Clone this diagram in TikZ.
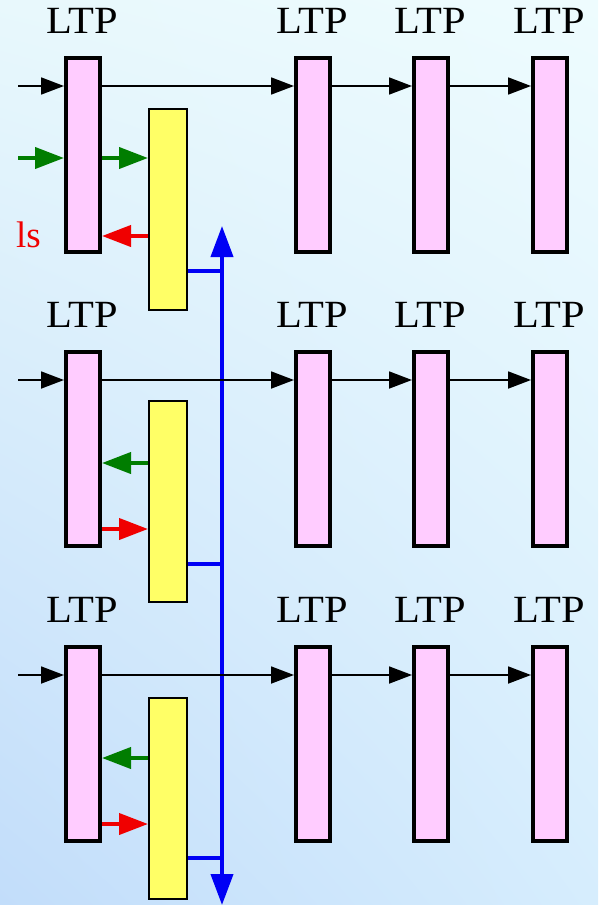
\documentclass[tikz,border=0pt]{standalone}
\usepackage{fontspec}
\setmainfont{Liberation Serif}
\newfontfamily\ltpfont[FakeStretch=1.1]{Liberation Serif}
\usetikzlibrary{arrows.meta,calc,positioning,shadings}

\definecolor{ltppink}{RGB}{255,204,255}
\definecolor{synyel}{RGB}{255,255,102}
\definecolor{sigred}{RGB}{240,0,0}
\definecolor{siggreen}{RGB}{0,125,0}
\definecolor{busblue}{RGB}{0,0,245}
\definecolor{bgtl}{RGB}{232,248,252}
\definecolor{bgtr}{RGB}{238,252,254}
\definecolor{bgbl}{RGB}{194,221,250}
\definecolor{bgbr}{RGB}{214,237,253}

\tikzset{
  ltp/.style={draw=black, line width=4pt, fill=ltppink, inner sep=0pt,
    minimum width=34pt, minimum height=194pt},
  syn/.style={draw=black, line width=2pt, fill=synyel, inner sep=0pt,
    minimum width=38pt, minimum height=201pt},
  lbl/.style={font=\ltpfont\fontsize{38.5}{40}\selectfont, anchor=base, inner sep=0pt},
  blk/.style={draw=black, line width=1.8pt, -{Triangle[length=23pt,width=17pt]}},
  grn/.style={draw=siggreen, line width=4pt, -{Triangle[length=29pt,width=21pt]}},
  rd/.style={draw=sigred, line width=4pt, -{Triangle[length=29pt,width=21pt]}},
  blu/.style={draw=busblue, line width=4pt},
}

\begin{document}
\begin{tikzpicture}[x=1pt,y=-1pt]
% background
\shade[upper left=bgtl, upper right=bgtr, lower left=bgbl, lower right=bgbr] (0,0) rectangle (598,905);
\useasboundingbox (0,0) rectangle (598,905);

% row 1
\node[ltp] (pA1) at (83,155) {};
\node[ltp] (pB1) at (313,155) {};
\node[ltp] (pC1) at (431,155) {};
\node[ltp] (pD1) at (550,155) {};
\node[syn] (yA1) at (168,209.5) {};
% row 2
\node[ltp] (pA2) at (83,449) {};
\node[ltp] (pB2) at (313,449) {};
\node[ltp] (pC2) at (431,449) {};
\node[ltp] (pD2) at (550,449) {};
\node[syn] (yA2) at (168,501.5) {};
% row 3
\node[ltp] (pA3) at (83,744) {};
\node[ltp] (pB3) at (313,744) {};
\node[ltp] (pC3) at (431,744) {};
\node[ltp] (pD3) at (550,744) {};
\node[syn] (yA3) at (168,798.5) {};

% labels
\node[lbl] (tA1) at ([yshift=23pt,xshift=-1pt]pA1.north) {LTP};
\node[lbl] (tB1) at ([yshift=23pt,xshift=-1pt]pB1.north) {LTP};
\node[lbl] (tC1) at ([yshift=23pt,xshift=-1pt]pC1.north) {LTP};
\node[lbl] (tD1) at ([yshift=23pt,xshift=-1pt]pD1.north) {LTP};
\node[lbl] (tA2) at ([yshift=23pt,xshift=-1pt]pA2.north) {LTP};
\node[lbl] (tB2) at ([yshift=23pt,xshift=-1pt]pB2.north) {LTP};
\node[lbl] (tC2) at ([yshift=23pt,xshift=-1pt]pC2.north) {LTP};
\node[lbl] (tD2) at ([yshift=23pt,xshift=-1pt]pD2.north) {LTP};
\node[lbl] (tA3) at ([yshift=23pt,xshift=-1pt]pA3.north) {LTP};
\node[lbl] (tB3) at ([yshift=23pt,xshift=-1pt]pB3.north) {LTP};
\node[lbl] (tC3) at ([yshift=23pt,xshift=-1pt]pC3.north) {LTP};
\node[lbl] (tD3) at ([yshift=23pt,xshift=-1pt]pD3.north) {LTP};
\node[text=sigred, font=\fontsize{37}{40}\selectfont, anchor=base west, inner sep=0pt] (lsig) at (16,247) {ls};

% blue bus
\coordinate (busTop) at (222,226);
\coordinate (busBot) at (222,905);
\draw[blu, {Triangle[length=31pt,width=22pt]}-{Triangle[length=31pt,width=22pt]}] (busBot) -- (busTop);
\draw[blu] ([yshift=-163pt]yA1.north east) -- ([yshift=-163pt]yA1.north east -| busTop);
\draw[blu] ([yshift=-164pt]yA2.north east) -- ([yshift=-164pt]yA2.north east -| busTop);
\draw[blu] ([yshift=-161pt]yA3.north east) -- ([yshift=-161pt]yA3.north east -| busTop);

% black chains
\coordinate (kIn1) at (18,86);
\coordinate (kIn2) at (18,380);
\coordinate (kIn3) at (18,675);
\draw[blk] (kIn1) -- (kIn1 -| pA1.west);
\draw[blk] (pA1.east |- kIn1) -- (kIn1 -| pB1.west);
\draw[blk] (pB1.east |- kIn1) -- (kIn1 -| pC1.west);
\draw[blk] (pC1.east |- kIn1) -- (kIn1 -| pD1.west);
\draw[blk] (kIn2) -- (kIn2 -| pA2.west);
\draw[blk] (pA2.east |- kIn2) -- (kIn2 -| pB2.west);
\draw[blk] (pB2.east |- kIn2) -- (kIn2 -| pC2.west);
\draw[blk] (pC2.east |- kIn2) -- (kIn2 -| pD2.west);
\draw[blk] (kIn3) -- (kIn3 -| pA3.west);
\draw[blk] (pA3.east |- kIn3) -- (kIn3 -| pB3.west);
\draw[blk] (pB3.east |- kIn3) -- (kIn3 -| pC3.west);
\draw[blk] (pC3.east |- kIn3) -- (kIn3 -| pD3.west);

% green and red
\coordinate (gIn1) at (18,158);
\draw[grn] (gIn1) -- (gIn1 -| pA1.west);
\draw[grn] (pA1.east |- gIn1) -- (gIn1 -| yA1.west);
\draw[rd] ([yshift=-180pt]pA1.north -| yA1.west) -- ([yshift=-180pt]pA1.north east);
\draw[grn] ([yshift=-113pt]pA2.north -| yA2.west) -- ([yshift=-113pt]pA2.north east);
\draw[rd] ([yshift=-179pt]pA2.north east) -- ([yshift=-179pt]pA2.north -| yA2.west);
\draw[grn] ([yshift=-113pt]pA3.north -| yA3.west) -- ([yshift=-113pt]pA3.north east);
\draw[rd] ([yshift=-179pt]pA3.north east) -- ([yshift=-179pt]pA3.north -| yA3.west);
\end{tikzpicture}
\end{document}
